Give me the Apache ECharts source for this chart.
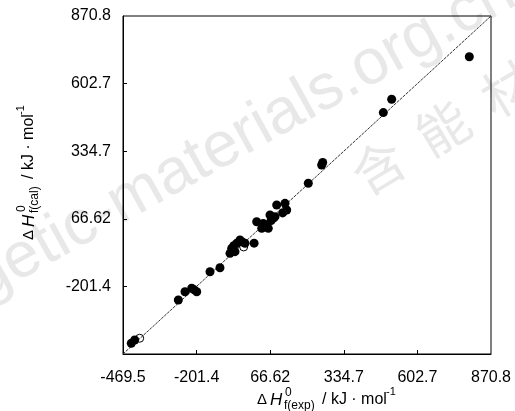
<!DOCTYPE html>
<html>
<head>
<meta charset="utf-8">
<script src="https://cdn.jsdelivr.net/npm/echarts@6/dist/echarts.min.js"></script>
<style>
  html, body { margin: 0; padding: 0; background: #fff; }
  #chart { width: 515px; height: 411px; }
</style>
</head>
<body>
<div id="chart"></div>
<script>
// axis ticks (both axes share the same scale)
const tickValues = [-469.5, -201.44, 66.62, 334.68, 602.74, 870.8];
const tickLabels = ['-469.5', '-201.4', '66.62', '334.7', '602.7', '870.8'];

// experimental vs calculated heats of formation (filled markers)
const expValues = [791.8, 509, 478.6, 254, 258, 205.4, 90.3, 120.5, 126.7, 112, 65.9, 84.1, 70, 17.4,
  41.5, 59.7, 35.7, 50, 8, -25.2, -43.4, -55.4, -61.6, -73.6, -79.8, -35, -66, -116.3, -152.6,
  -201, -219.3, -210, -243.7, -268, -426.9, -439.3];
const calValues = [709.4, 540.5, 487.7, 280, 290, 207.4, 121.3, 128, 101.5, 90, 81.7, 75, 60, 55,
  48.4, 28.7, 28.7, 40, -30, -30.6, -17.4, -30.6, -63.6, -50.4, -70.3, -25, -40, -127.3, -143.2,
  -222.5, -209, -215, -222.5, -255.4, -414, -427];

// a few hollow markers
const expHollow = [-408.7, -30, 80];
const calHollow = [-407, -45, 70];

// y = x reference line
const lineX = [-469.5, 870.8];
const lineY = [-469.5, 870.8];

const font = 'Liberation Sans, Arial, sans-serif';
const chart = echarts.init(document.getElementById('chart'));

const labelFor = value => {
  const i = tickValues.findIndex(t => Math.abs(t - value) < 0.5);
  return i >= 0 ? tickLabels[i] : '';
};

const makeAxis = (showEnds, margin) => ({
  type: 'value',
  min: tickValues[0],
  max: tickValues[tickValues.length - 1],
  axisLine: { show: true, onZero: false, lineStyle: { color: '#000', width: 1 } },
  axisTick: {
    show: true,
    inside: true,
    length: 4,
    customValues: tickValues.slice(1, -1),
    lineStyle: { color: '#000' }
  },
  axisLabel: {
    customValues: showEnds ? tickValues : tickValues.slice(1),
    formatter: labelFor,
    color: '#000',
    fontFamily: font,
    fontSize: 16,
    margin: margin
  },
  splitLine: { show: false }
});

// axis title made of pieces so the 0 / subscript can be stacked
const titleParts = (sub, subWidth) => {
  const after = 30 + subWidth + 4;
  return [
    { type: 'text', x: 0, y: 0, style: { text: '\u0394', font: '15px ' + font, fill: '#000', verticalAlign: 'middle' } },
    { type: 'text', x: 13, y: 0, style: { text: 'H', font: 'italic 17px ' + font, fill: '#000', verticalAlign: 'middle' } },
    { type: 'text', x: 28, y: -7, style: { text: '0', font: '12px ' + font, fill: '#000', verticalAlign: 'middle' } },
    { type: 'text', x: 27, y: 6, style: { text: sub, font: '12px ' + font, fill: '#000', verticalAlign: 'middle' } },
    { type: 'text', x: after, y: 0, style: { text: '/ kJ \u00b7 mol', font: '16px ' + font, fill: '#000', verticalAlign: 'middle' } },
    { type: 'text', x: after + 64, y: -8, style: { text: '-1', font: '11px ' + font, fill: '#000', verticalAlign: 'middle' } }
  ];
};

const option = {
  animation: false,
  backgroundColor: '#fff',
  grid: {
    left: 123,
    right: 24,
    top: 16,
    bottom: 57,
    show: true,
    borderColor: '#000',
    borderWidth: 1
  },
  xAxis: makeAxis(true, 16),
  yAxis: makeAxis(false, 12),
  graphic: [
    {
      type: 'text',
      z: -10,
      x: 526,
      y: 16,
      rotation: 29 * Math.PI / 180,
      silent: true,
      style: {
        text: 'energetic-materials.org.cn',
        font: '64px ' + font,
        fill: '#e8e8e8',
        align: 'right',
        verticalAlign: 'bottom'
      }
    },
    {
      type: 'text',
      z: -10,
      x: 356,
      y: 180,
      rotation: 31 * Math.PI / 180,
      silent: true,
      style: {
        text: '\u542b  \u80fd  \u6750  \u6599',
        font: '52px "Noto Sans CJK SC"',
        fill: '#e8e8e8',
        align: 'left',
        verticalAlign: 'middle'
      }
    },
    { type: 'group', x: 257, y: 400, children: titleParts('f(exp)', 31) },
    { type: 'group', x: 29, y: 240, rotation: Math.PI / 2, children: titleParts('f(cal)', 27) }
  ],
  series: [
    {
      type: 'line',
      data: lineX.map((x, i) => [x, lineY[i]]),
      symbol: 'none',
      z: 2,
      lineStyle: { color: '#333', width: 1, type: [3, 1] }
    },
    {
      type: 'scatter',
      data: expValues.map((x, i) => [x, calValues[i]]),
      symbol: 'circle',
      symbolSize: 9,
      z: 3,
      itemStyle: { color: '#000', opacity: 1 }
    },
    {
      type: 'scatter',
      data: expHollow.map((x, i) => [x, calHollow[i]]),
      symbol: 'circle',
      symbolSize: 8,
      z: 4,
      itemStyle: { color: 'rgba(0,0,0,0)', borderColor: '#000', borderWidth: 1, opacity: 1 }
    }
  ]
};

chart.setOption(option);
</script>
</body>
</html>
